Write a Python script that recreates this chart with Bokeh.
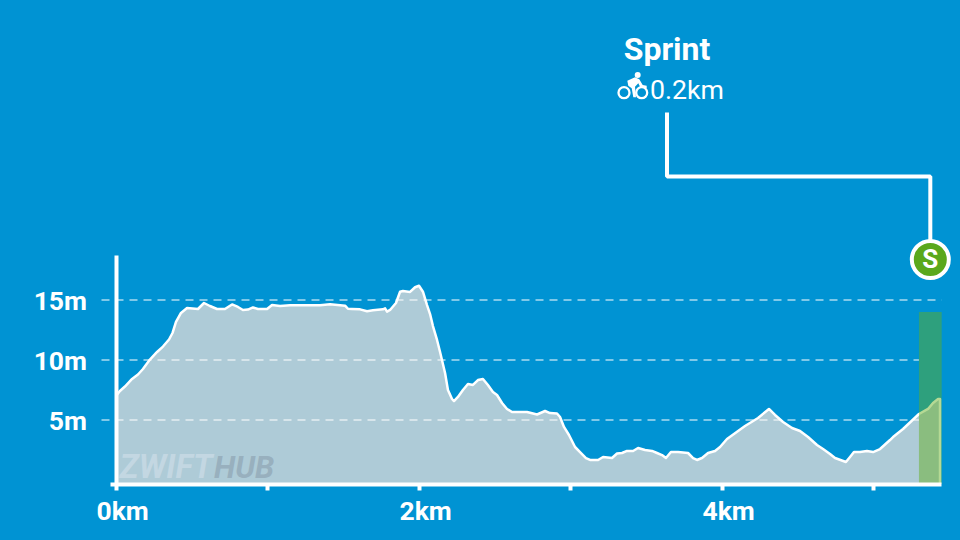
from bokeh.plotting import figure
from bokeh.embed import file_html
from bokeh.resources import INLINE
from bokeh.models import FixedTicker
from bokeh.core.properties import value

distance_km = [0.00,0.026,0.059,0.106,0.145,0.178,0.224,0.271,0.310,0.350,0.373,0.396,0.429,0.469,0.541,0.581,0.620,0.667,0.719,0.766,
 0.805,0.838,0.871,0.904,0.937,0.997,1.030,1.083,1.149,1.347,1.413,1.512,1.531,1.558,1.611,1.657,1.696,1.762,1.776,1.789,
 1.809,1.848,1.875,1.894,1.941,1.974,2.000,2.026,2.053,2.073,2.092,2.119,2.139,2.172,2.191,2.218,2.231,2.257,2.290,2.323,
 2.356,2.389,2.422,2.455,2.488,2.515,2.548,2.581,2.614,2.713,2.779,2.832,2.865,2.911,2.931,2.957,2.990,3.030,3.063,3.102,
 3.129,3.182,3.215,3.274,3.307,3.340,3.373,3.413,3.446,3.492,3.538,3.571,3.604,3.630,3.663,3.710,3.776,3.809,3.835,3.868,
 3.908,3.954,3.987,4.033,4.152,4.238,4.310,4.350,4.403,4.462,4.515,4.568,4.627,4.667,4.713,4.746,4.818,4.845,4.871,4.911,
 4.957,4.997,5.043,5.109,5.129,5.195,5.300,5.360,5.393,5.426,5.439]
elevation_m = [7.0,7.42,7.79,8.42,8.79,9.25,10.04,10.67,11.12,11.71,12.25,13.17,13.92,14.33,14.25,14.75,14.5,14.25,14.25,14.63,
 14.42,14.17,14.2,14.38,14.25,14.25,14.58,14.5,14.56,14.56,14.64,14.53,14.27,14.25,14.22,14.06,14.14,14.22,14.3,14.03,
 14.17,14.75,15.69,15.75,15.67,16.06,16.19,15.69,14.58,13.83,12.83,11.67,10.67,8.92,7.5,6.75,6.58,6.92,7.5,8.0,
 7.92,8.33,8.42,7.92,7.33,7.08,6.42,5.92,5.67,5.67,5.46,5.75,5.58,5.54,5.25,4.42,3.75,2.75,2.33,1.83,
 1.67,1.67,1.92,1.83,2.21,2.25,2.42,2.42,2.67,2.5,2.42,2.25,2.08,1.83,2.33,2.33,2.25,1.83,1.67,1.83,
 2.25,2.42,2.75,3.42,4.5,5.17,5.92,5.42,4.83,4.33,4.08,3.58,2.92,2.58,2.17,1.83,1.5,1.92,2.33,2.33,
 2.42,2.33,2.58,3.33,3.58,4.25,5.5,5.92,6.42,6.75,6.75]

x_ticks = [0, 1, 2, 3, 4, 5]
x_labels = {0: "\u00a0\u00a00km", 1: "", 2: "\u00a0\u00a02km", 3: "", 4: "\u00a0\u00a04km", 5: ""}
y_ticks = [5, 10, 15]
y_labels = {5: "5m", 10: "10m", 15: "15m"}
sprint_start_km = 5.30
sprint_end_km = 5.45
sprint_height_m = 14
title_text = "Sprint"
sprint_length = "0.2km"

BG = "#0093d3"
FILL = "#aecbd7"
PX_KM, X0 = 151.5, 115.5
PX_M, Y0 = 12.0, 479.5
def X(px): return (px - X0) / PX_KM
def Y(py): return (Y0 - py) / PX_M

p = figure(frame_width=960, frame_height=540, min_border_left=0, min_border_right=0, min_border_top=0,
           min_border_bottom=0, x_range=(X(0), X(960)), y_range=(Y(540), Y(0)),
           output_backend="svg", toolbar_location=None, background_fill_color=BG, border_fill_color=BG)
p.outline_line_color = None
p.xgrid.visible = False
p.ygrid.visible = False

base = Y(483.5)
p.varea(distance_km, [base] * len(distance_km), elevation_m, fill_color=FILL, fill_alpha=1)

# dashed reference lines, starting left of the axis
for level in y_ticks:
    end = sprint_end_km if level > sprint_height_m else sprint_start_km
    p.line([X(101), end], [level, level], line_color="white", line_alpha=0.5, line_width=2, line_dash="8 6")

# watermark
p.text([X(119)], [Y(466.5)], text=["ZWIFT"], text_font=value("Roboto"), text_font_style="bold italic",
       text_font_size="32.5px", text_color="#c3d7e2", text_baseline="middle", text_align="left")
p.text([X(213.5)], [Y(466.5)], text=["HUB"], text_font=value("Roboto"), text_font_style="bold italic",
       text_font_size="31px", text_color="#98b0be", text_baseline="middle", text_align="left")

# profile outline (closes down at the right end)
p.line(distance_km + [distance_km[-1]], elevation_m + [base], line_color="white", line_width=2.5, line_join="round")

# sprint band
p.quad(left=[sprint_start_km], right=[sprint_end_km], bottom=[base], top=[sprint_height_m],
       fill_color="#62af1c", fill_alpha=0.47, line_color=None)

# connector and marker
mid = (sprint_start_km + sprint_end_km) / 2
p.line([X(666.5), X(666.5), mid, mid], [Y(112), Y(176), Y(176), Y(245)], line_color="white", line_width=4)
p.scatter([mid], [Y(259)], size=37, marker="circle", fill_color="#5aa81c", line_color="white", line_width=4)
p.text([mid], [Y(258.5)], text=["S"], text_font=value("Roboto"), text_font_style="bold", text_font_size="26px",
       text_color="white", text_align="center", text_baseline="middle")

# labels
p.text([X(666.5)], [Y(48.5)], text=[title_text], text_font=value("Roboto"), text_font_style="bold",
       text_font_size="32px", text_color="white", text_align="center", text_baseline="middle")
p.text([X(649.5)], [Y(89.5)], text=[sprint_length], text_font=value("Roboto"), text_font_size="26.7px",
       text_color="white", text_align="left", text_baseline="middle")

# bike icon
p.scatter([X(623.5), X(641.2)], [Y(92.2), Y(92.2)], size=11, marker="circle", fill_color=None, line_color="white", line_width=2.3)
p.scatter([X(637.2)], [Y(74.5)], size=6, marker="circle", fill_color="white", line_color=None)
p.patch([X(v) for v in (626.8, 634.5, 638.8, 642.2, 646.2, 646.2, 640.2, 637.8, 634.5, 635.5, 632.8, 631.2, 627.8)],
        [Y(v) for v in (80.2, 76.8, 78.8, 84.5, 85.2, 87.5, 87.5, 82.8, 86.2, 96.8, 96.8, 87.8, 85.2)],
        fill_color="white", line_color=None)

# axes
xa = p.xaxis[0]
xa.fixed_location = base
xa.ticker = FixedTicker(ticks=x_ticks)
xa.major_label_overrides = x_labels
xa.bounds = (X(110), sprint_end_km)
xa.axis_line_color = "white"
xa.axis_line_width = 4
xa.major_tick_line_color = "white"
xa.major_tick_line_width = 4
xa.major_tick_in = 0
xa.major_tick_out = 6
xa.minor_tick_line_color = None
xa.major_label_text_color = "white"
xa.major_label_text_font = "Roboto"
xa.major_label_text_font_style = "bold"
xa.major_label_text_font_size = "26.5px"
xa.major_label_standoff = 5

ya = p.yaxis[0]
ya.fixed_location = 0
ya.ticker = FixedTicker(ticks=y_ticks)
ya.major_label_overrides = y_labels
ya.bounds = (base, Y(255))
ya.axis_line_color = "white"
ya.axis_line_width = 4
ya.major_tick_line_color = None
ya.minor_tick_line_color = None
ya.major_tick_in = 0
ya.major_tick_out = 0
ya.major_label_text_color = "white"
ya.major_label_text_font = "Roboto"
ya.major_label_text_font_style = "bold"
ya.major_label_text_font_size = "26.5px"
ya.major_label_standoff = 29
ya.major_label_orientation = "horizontal"

html = file_html(p, INLINE).replace("<head>", "<head><style>html,body{background:#0093d3}</style>", 1)
open("out.html", "w").write(html)
